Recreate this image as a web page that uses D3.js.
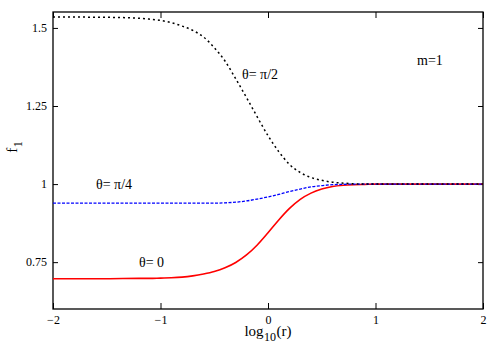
<!DOCTYPE html>
<html>
<head>
<meta charset="utf-8">
<script src="https://cdn.jsdelivr.net/npm/d3@7"></script>
<style>
  body { margin: 0; background: white; }
</style>
</head>
<body>
<div id="chart"></div>
<script>
// values
const logr = [-2, -1.5, -1.2, -1.1, -1, -0.9, -0.8, -0.7, -0.6, -0.5, -0.4, -0.3, -0.2, -0.1, 0, 0.1, 0.2, 0.3, 0.4, 0.5, 0.6, 0.7, 0.8, 0.9, 1, 1.2, 1.5, 2];
const f_theta0 = [0.697, 0.697, 0.698, 0.698, 0.699, 0.700, 0.702, 0.706, 0.712, 0.720, 0.732, 0.749, 0.773, 0.805, 0.844, 0.885, 0.922, 0.951, 0.971, 0.984, 0.992, 0.996, 0.998, 0.999, 1, 1, 1, 1];
const f_thetaPi4 = [0.939, 0.939, 0.939, 0.939, 0.939, 0.939, 0.939, 0.939, 0.939, 0.939, 0.940, 0.942, 0.946, 0.952, 0.959, 0.967, 0.976, 0.984, 0.991, 0.995, 0.998, 0.999, 1, 1, 1, 1, 1, 1];
const f_thetaPi2 = [1.535, 1.534, 1.531, 1.528, 1.524, 1.517, 1.506, 1.492, 1.471, 1.437, 1.394, 1.337, 1.277, 1.215, 1.155, 1.104, 1.063, 1.037, 1.021, 1.012, 1.006, 1.003, 1.001, 1, 1, 1, 1, 1];
const xTicks = [-2, -1, 0, 1, 2];
const yTicks = [0.75, 1, 1.25, 1.5];

const width = 500, height = 350;
const margin = {top: 12, right: 17, bottom: 41, left: 53};
const w = width - margin.left - margin.right;
const h = height - margin.top - margin.bottom;
const serif = "'Liberation Serif', 'DejaVu Serif', serif";

let svg = d3.select("#chart")
    .append("svg")
    .attr("width", width)
    .attr("height", height)
    .style("font-family", serif)
    .append("g")
    .attr("transform", `translate(${margin.left}, ${margin.top})`);

let x = d3.scaleLinear().domain([-2, 2]).range([0, w]);
let y = d3.scaleLinear().domain([0.6, 1.551]).range([h, 0]);

// axes, ticks pointing inward
function styleAxis(g) {
    g.attr("font-family", null).attr("font-size", 12);
    g.select(".domain").remove();
    g.selectAll(".tick line").attr("stroke", "black").attr("stroke-width", 1);
    g.selectAll(".tick text").style("font-family", serif);
}

svg.append("g")
    .attr("transform", `translate(0, ${h})`)
    .call(d3.axisBottom(x).tickValues(xTicks).tickSize(-6).tickPadding(6).tickFormat(d3.format("d")))
    .call(styleAxis);

svg.append("g")
    .call(d3.axisTop(x).tickValues(xTicks).tickSize(-6).tickFormat(""))
    .call(styleAxis);

svg.append("g")
    .call(d3.axisLeft(y).tickValues(yTicks).tickSize(-5).tickPadding(6).tickFormat(d => d))
    .call(styleAxis);

svg.append("g")
    .attr("transform", `translate(${w}, 0)`)
    .call(d3.axisRight(y).tickValues(yTicks).tickSize(-5).tickFormat(""))
    .call(styleAxis);

// frame
svg.append("rect")
    .attr("width", w).attr("height", h)
    .attr("fill", "none").attr("stroke", "black").attr("stroke-width", 1.3);

// curves
let line = vals => d3.line()
    .x((d, i) => x(logr[i]))
    .y(d => y(d))
    .curve(d3.curveMonotoneX)(vals);

svg.append("path")
    .attr("d", line(f_theta0))
    .attr("fill", "none").attr("stroke", "#ff0000").attr("stroke-width", 1.6);

svg.append("path")
    .attr("d", line(f_thetaPi4))
    .attr("fill", "none").attr("stroke", "#0000ff").attr("stroke-width", 1.3)
    .attr("stroke-dasharray", "3,1.5");

svg.append("path")
    .attr("d", line(f_thetaPi2))
    .attr("fill", "none").attr("stroke", "black").attr("stroke-width", 1.5)
    .attr("stroke-dasharray", "2,3");

// labels
let label = (px, py, s) => svg.append("text")
    .attr("x", px - margin.left).attr("y", py - margin.top)
    .attr("font-size", 14).style("font-family", serif).text(s);
label(242, 79, "θ= π/2");
label(96, 189, "θ= π/4");
label(139, 267, "θ= 0");
label(417, 65, "m=1");

// x axis title: log10(r) with subscript
let xt = svg.append("g").style("font-family", serif);
let t1 = xt.append("text").attr("x", 0).attr("y", 0).attr("font-size", 15).text("log");
let x1 = t1.node().getComputedTextLength() + 0.5;
let t2 = xt.append("text").attr("x", x1).attr("y", 5).attr("font-size", 12).text("10");
let x2 = x1 + t2.node().getComputedTextLength() + 0.5;
let t3 = xt.append("text").attr("x", x2).attr("y", 0).attr("font-size", 15).text("(r)");
let x3 = x2 + t3.node().getComputedTextLength();
xt.attr("transform", `translate(${268 - margin.left - x3 / 2}, ${336 - margin.top})`);

// y axis title: f1
let yt = svg.append("g").style("font-family", serif);
let f1 = yt.append("text").attr("x", 0).attr("y", 0).attr("font-size", 15).text("f");
let fw = f1.node().getComputedTextLength() + 0.5;
let f2 = yt.append("text").attr("x", fw).attr("y", 5).attr("font-size", 12).text("1");
let fw2 = fw + f2.node().getComputedTextLength();
yt.attr("transform", `translate(${17 - margin.left}, ${147 - margin.top + fw2 / 2}) rotate(-90)`);
</script>
</body>
</html>
